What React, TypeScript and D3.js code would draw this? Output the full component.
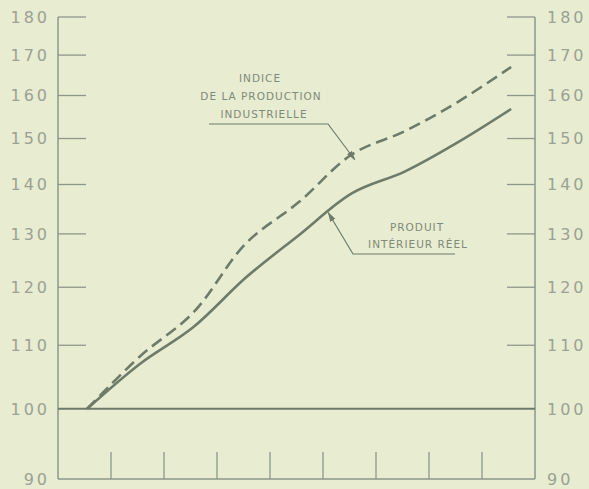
import React from "react";
import * as d3 from "d3";

const periods = [1, 2, 3, 4, 5, 6, 7, 8, 9];
const pibReel = [100, 107.0, 113.0, 121.8, 129.8, 138.2, 142.8, 149.2, 156.8];
const productionIndustrielle = [100, 108.2, 115.5, 128.2, 136.4, 146.5, 151.7, 158.5, 167.0];
const yTicks = [90, 100, 110, 120, 130, 140, 150, 160, 170, 180];
const xTicks = [1, 2, 3, 4, 5, 6, 7, 8];

const W = 589;
const H = 489;
const BG = "#e8ecd1";
const AXIS = "#8e9888";
const LINE = "#6e7b68";
const TEXT = "#9aa293";
const LABEL = "#7f8a79";

export default function App() {
  const x = d3.scaleLinear().domain([0, 9]).range([58, 535]);
  const y = d3.scaleLog().domain([90, 180]).range([479, 17]);
  const px = (p: number) => x(p - 0.45);

  const line = d3
    .line<number>()
    .x((_, i) => px(periods[i]))
    .y((d) => y(d))
    .curve(d3.curveCatmullRom.alpha(0.5));

  const tickLen = 28;
  const font = "'DejaVu Sans', sans-serif";

  return (
    <svg
      width={W}
      height={H}
      style={{ position: "absolute", left: 0, top: 0, display: "block" }}
    >
      <defs>
        <marker
          id="arr"
          viewBox="0 0 10 10"
          refX="9"
          refY="5"
          markerWidth="10"
          markerHeight="10"
          orient="auto"
          markerUnits="userSpaceOnUse"
        >
          <path d="M0,2 L10,5 L0,8 Z" fill={LINE} />
        </marker>
      </defs>
      <rect x={0} y={0} width={W} height={H} fill={BG} />

      {/* frame */}
      <line x1={x(0)} x2={x(0)} y1={y(180)} y2={y(90)} stroke={AXIS} strokeWidth={1.5} />
      <line x1={x(9)} x2={x(9)} y1={y(180)} y2={y(90)} stroke={AXIS} strokeWidth={1.5} />
      <line x1={x(0)} x2={x(9)} y1={y(90)} y2={y(90)} stroke={AXIS} strokeWidth={1.5} />
      <line x1={x(0)} x2={x(9)} y1={y(100)} y2={y(100)} stroke={LINE} strokeWidth={2} />

      {/* y ticks */}
      {yTicks
        .filter((t) => t > 100)
        .map((t) => (
          <g key={"t" + t}>
            <line x1={x(0)} x2={x(0) + tickLen} y1={y(t)} y2={y(t)} stroke={AXIS} strokeWidth={1.3} />
            <line x1={x(9) - tickLen} x2={x(9)} y1={y(t)} y2={y(t)} stroke={AXIS} strokeWidth={1.3} />
          </g>
        ))}
      {yTicks.map((t) => (
        <g key={"l" + t} fontFamily={font} fontSize={16} fill={TEXT} letterSpacing={3}>
          <text x={50} y={y(t)} dy="0.36em" textAnchor="end">
            {t}
          </text>
          <text x={547} y={y(t)} dy="0.36em" textAnchor="start">
            {t}
          </text>
        </g>
      ))}

      {/* x ticks */}
      {xTicks.map((t) => (
        <line key={"x" + t} x1={x(t)} x2={x(t)} y1={y(90)} y2={y(90) - tickLen + 1} stroke={AXIS} strokeWidth={1.3} />
      ))}

      {/* series */}
      <path d={line(pibReel) || ""} fill="none" stroke={LINE} strokeWidth={2.6} />
      <path
        d={line(productionIndustrielle) || ""}
        fill="none"
        stroke={LINE}
        strokeWidth={2.6}
        strokeDasharray="12,6"
      />

      {/* annotation: industrial production */}
      <g fontFamily={font} fontSize={10.5} fill={LABEL} textAnchor="middle" letterSpacing={1}>
        <text x={260} y={82}>INDICE</text>
        <text x={261} y={100}>DE LA PRODUCTION</text>
        <text x={264} y={118}>INDUSTRIELLE</text>
      </g>
      <polyline
        points={`209,124 328,124 ${px(6.05)},${y(145.3)}`}
        fill="none"
        stroke={LINE}
        strokeWidth={1.2}
        markerEnd="url(#arr)"
      />

      {/* annotation: real GDP */}
      <g fontFamily={font} fontSize={10.5} fill={LABEL} textAnchor="middle" letterSpacing={1}>
        <text x={417} y={231}>PRODUIT</text>
        <text x={418} y={248}>INTÉRIEUR RÉEL</text>
      </g>
      <polyline
        points={`455,254 353,254 ${px(5.55)},${y(134.2)}`}
        fill="none"
        stroke={LINE}
        strokeWidth={1.2}
        markerEnd="url(#arr)"
      />
    </svg>
  );
}
